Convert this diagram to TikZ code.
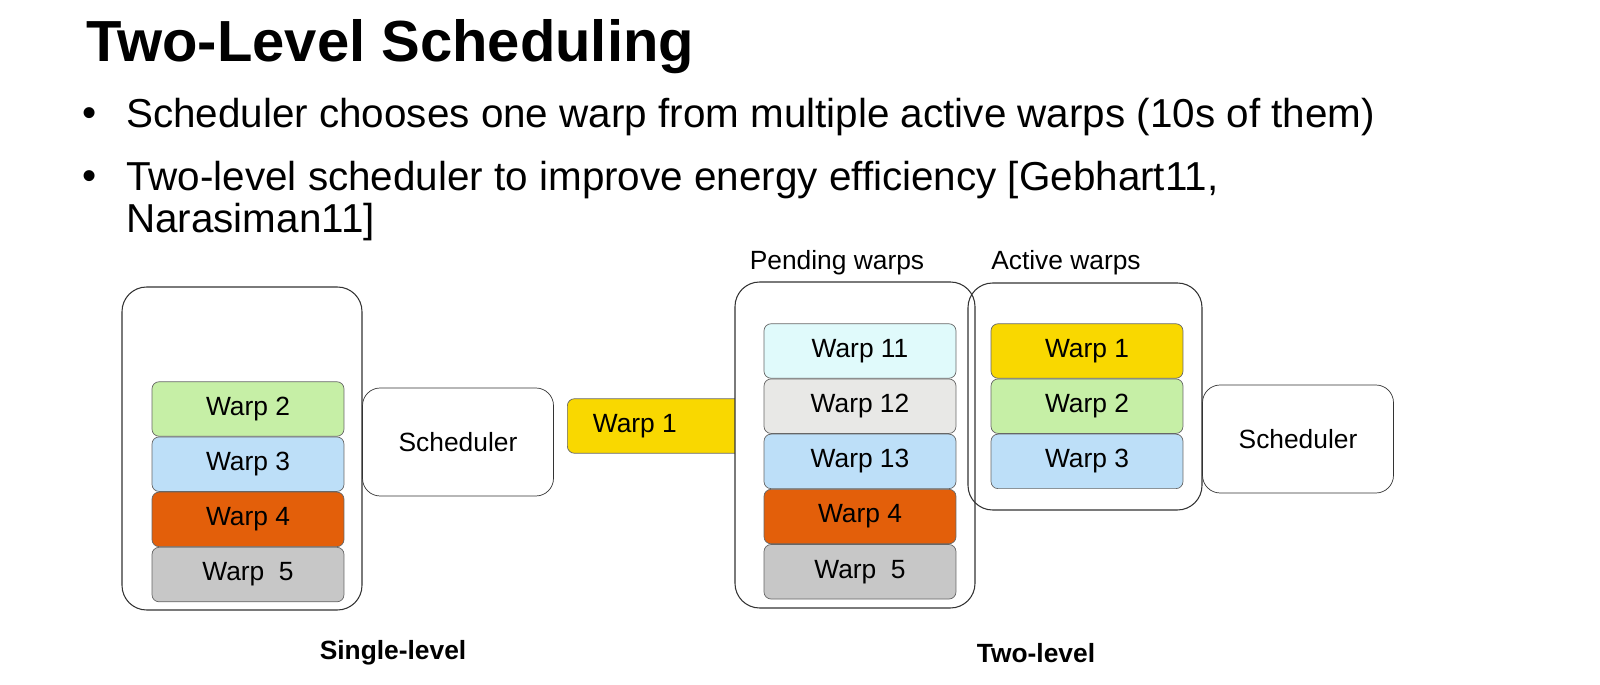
\documentclass[tikz,border=0pt]{standalone}
\usepackage{fontspec}
\setmainfont{Liberation Sans}
\usetikzlibrary{positioning}
\definecolor{wgreen}{HTML}{C6EFA6}
\definecolor{wblue}{HTML}{BDDFF8}
\definecolor{worange}{HTML}{E35F0A}
\definecolor{wgray}{HTML}{C7C7C7}
\definecolor{wyellow}{HTML}{F9D800}
\definecolor{wcyan}{HTML}{E0FAFB}
\definecolor{wlight}{HTML}{E8E8E6}
\tikzset{
  warp/.style={draw=gray!80!black, rounded corners=4pt, minimum width=3.84cm, minimum height=1.09cm, inner sep=0pt, font=\fontsize{15}{17}\selectfont},
  group/.style={draw=black!80, rounded corners=14pt, line width=0.6pt},
  sched/.style={draw=black!80, rounded corners=10pt, minimum width=3.82cm, minimum height=2.16cm, font=\fontsize{15}{17}\selectfont},
  caption/.style={font=\fontsize{15}{17}\selectfont},
}
\begin{document}
\begin{tikzpicture}[x=0.02cm, y=-0.02cm]
            \useasboundingbox (0,0) rectangle (1600,685);

            % heading and bullets
            \node[anchor=west, font=\fontsize{33}{38}\selectfont\bfseries] (title) at (80,47) {Two-Level Scheduling};
            \node[font=\fontsize{23}{27}\selectfont] (b1) at (90,117) {•};
            \node[anchor=west, font=\fontsize{23}{27}\selectfont] (t1) at (120,117) {Scheduler chooses one warp from multiple active warps (10s of them)};
            \node[font=\fontsize{23}{27}\selectfont] (b2) at (90,180) {•};
            \node[anchor=west, font=\fontsize{23}{27}\selectfont] (t2) at (120,180) {Two-level scheduler to improve energy efficiency [Gebhart11,};
            \node[anchor=west, font=\fontsize{23}{27}\selectfont] (t3) at (120,222) {Narasiman11]};

            % single-level
            \draw[group] (122,287) rectangle (362,610);
            \node[warp, fill=wgreen] (s2) at (248,409) {Warp 2};
            \node[warp, fill=wblue, below=0pt of s2] (s3) {Warp 3};
            \node[warp, fill=worange, below=0pt of s3] (s4) {Warp 4};
            \node[warp, fill=wgray, below=0pt of s4] (s5) {Warp\ \ 5};
            \node[sched] (sch1) at (458,442) {Scheduler};
            \node[caption, font=\fontsize{15}{17}\selectfont\bfseries] (single) at (393,653) {Single-level};

            % two-level
            \node[warp, fill=wyellow, minimum width=3.6cm, anchor=west] (m1) at (567,426) {\hspace*{-0.9cm}Warp 1};
            \draw[group, fill=white] (735,282) rectangle (975,608);
            \node[caption] (pend) at (837,263) {Pending warps};
            \node[warp, fill=wcyan] (p11) at (860,351) {Warp 11};
            \node[warp, fill=wlight, below=0pt of p11] (p12) {Warp 12};
            \node[warp, fill=wblue, below=0pt of p12] (p13) {Warp 13};
            \node[warp, fill=worange, below=0pt of p13] (p4) {Warp 4};
            \node[warp, fill=wgray, below=0pt of p4] (p5) {Warp\ \ 5};

            \draw[group] (968,283) rectangle (1202,510);
            \node[caption] (act) at (1066,263) {Active warps};
            \node[warp, fill=wyellow] (a1) at (1087,351) {Warp 1};
            \node[warp, fill=wgreen, below=0pt of a1] (a2) {Warp 2};
            \node[warp, fill=wblue, below=0pt of a2] (a3) {Warp 3};
            \node[sched] (sch2) at (1298,439) {Scheduler};
            \node[caption, font=\fontsize{15}{17}\selectfont\bfseries] (two) at (1036,653) {Two-level};
        \end{tikzpicture}
\end{document}
